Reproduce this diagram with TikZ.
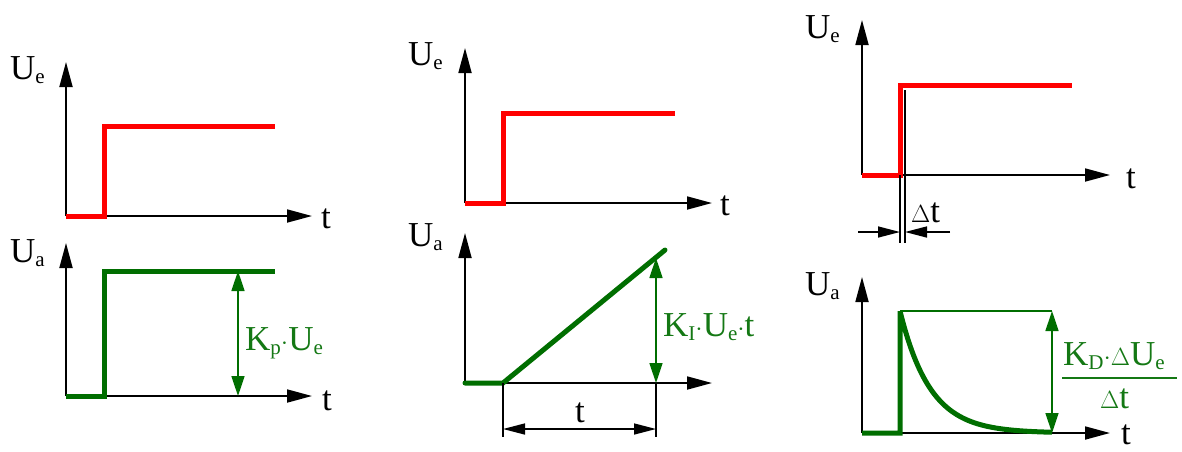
\documentclass[tikz,border=0pt]{standalone}
\usepackage{fontspec}
\setmainfont{Liberation Serif}
\usetikzlibrary{arrows.meta}
\definecolor{sigred}{RGB}{255,0,0}
\definecolor{siggreen}{RGB}{0,110,0}
\definecolor{txtgreen}{RGB}{20,120,20}
\newcommand{\sbs}[1]{\raisebox{-0.25ex}{\fontsize{21}{21}\selectfont #1}}
\newcommand{\cdt}{{\fontsize{22}{22}\selectfont\textperiodcentered}}
\tikzset{
  axis/.style={line width=1.8pt, -{Triangle[length=25pt,width=13pt]}},
  sigin/.style={line width=5pt, sigred, line join=miter},
  sigout/.style={line width=5pt, siggreen, line join=miter},
  dimg/.style={line width=1.6pt, siggreen, {Triangle[length=20pt,width=13pt]}-{Triangle[length=20pt,width=13pt]}},
  dimk/.style={line width=1.5pt, black},
  dimarr/.style={line width=1.5pt, black, -{Triangle[length=22pt,width=11pt]}},
  lbl/.style={font=\fontsize{35}{40}\selectfont, inner sep=0pt, anchor=base west},
  glbl/.style={lbl, text=txtgreen},
}
\begin{document}
\begin{tikzpicture}[x=1pt,y=-1pt]
\useasboundingbox (0,0) rectangle (1182,451);
% ---------- Panel 1 top (P) ----------
\coordinate (a1o) at (66,216);
\coordinate (a1y) at (66,62);
\coordinate (a1x) at (312,216);
\draw[axis] (a1o) -- (a1y);
\draw[axis] (a1o) -- (a1x);
\draw[sigin] (a1o) -- (104,216) -- (104,126) -- (275,126);
\node[lbl] (a1ul) at (10,79) {U\sbs{e}};
\node[lbl] (a1tl) at (321,228) {t};
% ---------- Panel 1 bottom ----------
\coordinate (b1o) at (66,396);
\coordinate (b1y) at (66,243);
\coordinate (b1x) at (312,396);
\draw[axis] (b1o) -- (b1y);
\draw[axis] (b1o) -- (b1x);
\draw[sigout] (b1o) -- (104,396) -- (104,271) -- (275,271);
\coordinate (b1dt) at (238,271);
\coordinate (b1db) at (238,396);
\draw[dimg] (b1dt) -- (b1db);
\node[lbl] (b1ul) at (10,262) {U\sbs{a}};
\node[lbl] (b1tl) at (322,410) {t};
\node[glbl] (b1k) at (245,350) {K\sbs{p}\cdt U\sbs{e}};
% ---------- Panel 2 top (I) ----------
\coordinate (a2o) at (465,203);
\coordinate (a2y) at (465,48);
\coordinate (a2x) at (712,203);
\draw[axis] (a2o) -- (a2y);
\draw[axis] (a2o) -- (a2x);
\draw[sigin] (a2o) -- (503,203) -- (503,113) -- (675,113);
\node[lbl] (a2ul) at (408,65) {U\sbs{e}};
\node[lbl] (a2tl) at (720,215) {t};
% ---------- Panel 2 bottom ----------
\coordinate (b2o) at (465,383);
\coordinate (b2y) at (465,233);
\coordinate (b2x) at (712,383);
\coordinate (b2s) at (503,383);
\coordinate (b2e) at (665,250);
\draw[axis] (b2o) -- (b2y);
\draw[axis] (b2o) -- (b2x);
\draw[sigout, line cap=round] (b2o) -- (b2s) -- (b2e);
\coordinate (b2dt) at (656,258);
\coordinate (b2db) at (656,383);
\draw[dimg] (b2dt) -- (b2db);
\coordinate (b2l1) at (503,437);
\coordinate (b2l2) at (656,437);
\draw[dimk] (b2s) -- (b2l1);
\draw[dimk] (b2db) -- (b2l2);
\coordinate (b2h1) at (503,429);
\coordinate (b2h2) at (656,429);
\draw[dimk, {Triangle[length=22pt,width=11pt]}-{Triangle[length=22pt,width=11pt]}] (b2h1) -- (b2h2);
\node[lbl] (b2ul) at (408,246) {U\sbs{a}};
\node[lbl, anchor=base] (b2tt) at (580,422) {t};
\node[glbl] (b2k) at (663,336) {K\sbs{I}\cdt U\sbs{e}\cdt t};
% ---------- Panel 3 top (D) ----------
\coordinate (a3o) at (862,175);
\coordinate (a3y) at (862,20);
\coordinate (a3x) at (1110,175);
\draw[axis] (a3o) -- (a3y);
\draw[axis] (a3o) -- (a3x);
\coordinate (a3s) at (900,175);
\draw[sigin] (a3o) -- (a3s) -- (900,85) -- (1072,85);
\coordinate (a3r) at (905,90);
\coordinate (a3rb) at (905,243);
\coordinate (a3sb) at (900,243);
\draw[dimk] (a3r) -- (a3rb);
\draw[dimk] (a3s) -- (a3sb);
\coordinate (a3la) at (858,232);
\coordinate (a3lb) at (900,232);
\coordinate (a3ra) at (950,232);
\coordinate (a3rc) at (905,232);
\draw[dimarr] (a3la) -- (a3lb);
\draw[dimarr] (a3ra) -- (a3rc);
\node[lbl] (a3ul) at (805,38) {U\sbs{e}};
\node[lbl] (a3tl) at (1126,188) {t};
\node[lbl] (a3dt) at (911,222) {$\Delta$t};
% ---------- Panel 3 bottom ----------
\coordinate (b3o) at (862,433);
\coordinate (b3y) at (862,277);
\coordinate (b3x) at (1110,433);
\draw[axis] (b3o) -- (b3y);
\draw[axis] (b3o) -- (b3x);
\coordinate (b3p) at (900,311);
\coordinate (b3q) at (1052,311);
\coordinate (b3e) at (1052,433);
\draw[line width=1.6pt, siggreen] (b3p) -- (b3q);
\draw[sigout] (b3o) -- (900,433) -- (b3p)
  plot[domain=0:152, samples=80, smooth] ({900+\x},{433-122*exp(-\x/30)});
\draw[dimg] (b3q) -- (b3e);
\coordinate (b3f1) at (1062,378);
\coordinate (b3f2) at (1177,378);
\draw[line width=1.4pt, txtgreen] (b3f1) -- (b3f2);
\node[lbl] (b3ul) at (805,295) {U\sbs{a}};
\node[lbl] (b3tl) at (1121,444) {t};
\node[glbl] (b3num) at (1063,365) {K\sbs{D}\cdt$\Delta$U\sbs{e}};
\node[glbl] (b3den) at (1100,408) {$\Delta$t};
\end{tikzpicture}
\end{document}
